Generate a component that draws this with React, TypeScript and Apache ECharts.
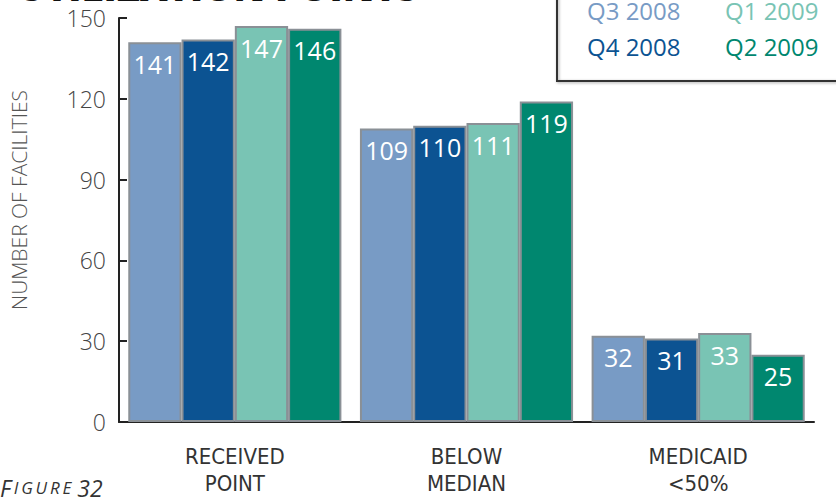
import React, { useEffect, useRef } from "react";
import * as echarts from "echarts";

const categories = ["RECEIVED\nPOINT", "BELOW\nMEDIAN", "MEDICAID\n<50%"];
const seriesNames = ["Q3 2008", "Q4 2008", "Q1 2009", "Q2 2009"];
const q3_2008 = [141, 109, 32];
const q4_2008 = [142, 110, 31];
const q1_2009 = [147, 111, 33];
const q2_2009 = [146, 119, 25];
const seriesValues = [q3_2008, q4_2008, q1_2009, q2_2009];
const seriesColors = ["#789bc5", "#0c5392", "#79c4b4", "#00876f"];
const yTicks = { min: 0, max: 150, interval: 30 };

export default function App() {
  const ref = useRef<HTMLDivElement>(null);
  useEffect(() => {
    document.body.style.margin = "0";
    if (!ref.current) return;
    const chart = echarts.init(ref.current, null, { renderer: "svg" });
    const legendItem = (i: number) => ({
      name: seriesNames[i],
      textStyle: { color: seriesColors[i] },
    });
    const legendCommon = {
      orient: "vertical" as const,
      top: -2,
      padding: 0,
      icon: "rect",
      itemWidth: 0,
      itemHeight: 0,
      itemGap: 12,
      selectedMode: false,
      textStyle: { fontFamily: "Open Sans", fontSize: 24, lineHeight: 24 },
    };
    chart.setOption({
      animation: false,
      backgroundColor: "#ffffff",
      grid: { left: 113, right: 22, top: 18, bottom: 70 },
      legend: [
        { ...legendCommon, left: 581, data: [legendItem(0), legendItem(1)] },
        { ...legendCommon, left: 719, data: [legendItem(2), legendItem(3)] },
      ],
      xAxis: {
        type: "category",
        data: categories,
        axisLine: { lineStyle: { color: "#222", width: 2 } },
        axisTick: { inside: true, length: 8, lineStyle: { color: "#222", width: 2 } },
        axisLabel: {
          color: "#333",
          fontFamily: "'Liberation Sans Narrow', 'DejaVu Sans Condensed', 'Open Sans'",
          fontSize: 22,
          lineHeight: 27,
          margin: 21,
        },
      },
      yAxis: {
        type: "value",
        min: yTicks.min,
        max: yTicks.max,
        interval: yTicks.interval,
        name: "NUMBER OF FACILITIES",
        nameLocation: "middle",
        nameGap: 90,
        nameTextStyle: {
          color: "#555",
          fontFamily: "Open Sans",
          fontSize: 21,
          fontWeight: 300,
          padding: [0, 0, 0, 40],
        },
        axisLine: { show: true, lineStyle: { color: "#222", width: 2 } },
        axisTick: { show: true, inside: true, length: 8, lineStyle: { color: "#222", width: 2 } },
        axisLabel: {
          color: "#444",
          fontFamily: "Open Sans",
          fontWeight: 300,
          fontSize: 23,
          margin: 13,
        },
        splitLine: { show: false },
      },
      series: seriesNames.map((name, i) => ({
        name,
        type: "bar",
        data: seriesValues[i],
        barGap: "0%",
        barCategoryGap: "8%",
        itemStyle: { color: seriesColors[i], borderColor: "#8a9096", borderWidth: 2 },
        label: {
          show: true,
          position: "insideTop",
          distance: 9,
          color: "#ffffff",
          fontFamily: "Open Sans",
          fontSize: 25,
        },
      })),
      graphic: [
        {
          type: "text",
          left: 17,
          top: -33,
          style: {
            text: "UTILIZATION POINTS",
            fill: "#111",
            fontFamily: "Open Sans",
            fontWeight: 800,
            fontSize: 38,
          },
        },
        {
          type: "rect",
          shape: { x: 557, y: -10, width: 300, height: 91 },
          style: {
            fill: "none",
            stroke: "#333",
            lineWidth: 2,
            shadowBlur: 3,
            shadowColor: "rgba(0,0,0,0.35)",
            shadowOffsetX: 1,
            shadowOffsetY: 1,
          },
        },
        {
          type: "text",
          left: 0,
          top: 476,
          style: {
            text: "{a|F}{b|\u2009I\u2009G\u2009U\u2009R\u2009E}\u2002{a|32}",
            fill: "#333",
            rich: {
              a: { fontFamily: "Open Sans", fontStyle: "italic", fontSize: 23, fill: "#333" },
              b: { fontFamily: "Open Sans", fontStyle: "italic", fontSize: 17, fill: "#333" },
            },
          },
        },
      ],
    });
    return () => chart.dispose();
  }, []);
  return <div ref={ref} style={{ width: 836, height: 497 }} />;
}
